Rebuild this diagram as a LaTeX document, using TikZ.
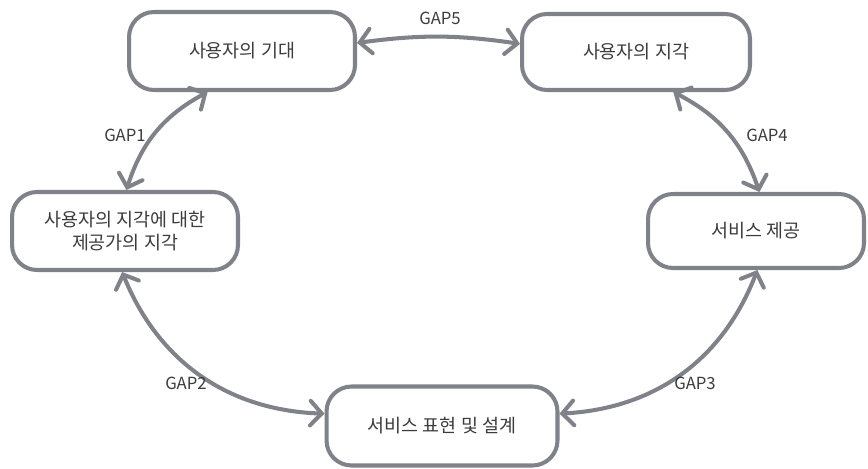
\documentclass[tikz,border=0pt]{standalone}
\usepackage{fontspec}
\setmainfont{Noto Sans CJK KR}
\usetikzlibrary{arrows.meta}
\definecolor{edgegray}{RGB}{128,130,137}
\definecolor{txtgray}{RGB}{60,60,62}
\tikzset{
  gapbox/.style={draw=edgegray, line width=2.3pt, rounded corners=0.5cm, fill=white,
    align=center, text=txtgray, font=\fontsize{10.5}{13}\selectfont, inner sep=0pt},
  gaparrow/.style={draw=edgegray, line width=2.3pt,
    {Straight Barb[length=6.5pt,width=14pt,line cap=round]}-{Straight Barb[length=6.5pt,width=14pt,line cap=round]}},
  gaplabel/.style={text=txtgray, font=\fontsize{9.5}{11}\selectfont, inner sep=1pt}
}
\begin{document}
\begin{tikzpicture}[x=0.02cm,y=-0.02cm]
\useasboundingbox (0,0) rectangle (868,469);
\node[gapbox, minimum width=4.52cm, minimum height=1.56cm] (n1) at (242,51) {사용자의 기대};
\node[gapbox, minimum width=4.56cm, minimum height=1.52cm] (n2) at (636,52) {사용자의 지각};
\node[gapbox, minimum width=4.52cm, minimum height=1.56cm] (n3) at (125,231) {사용자의 지각에 대한\\제공가의 지각};
\node[gapbox, minimum width=4.32cm, minimum height=1.48cm] (n4) at (756,231) {서비스 제공};
\node[gapbox, minimum width=4.62cm, minimum height=1.58cm] (n5) at (442,426) {서비스 표현 및 설계};

\draw[gaparrow] (n1.4) to[bend left=8] (n2.176);
\draw[gaparrow] (n1.230) to[bend right=22] (n3.88);
\draw[gaparrow] (n2.313) to[bend left=22] (n4.85);
\draw[gaparrow] (n3.266) to[bend right=33] (n5.174);
\draw[gaparrow] (n4.272) to[bend left=33] (n5.6);

\node[gaplabel] (g5) at (440,18) {GAP5};
\node[gaplabel] (g1) at (125,135) {GAP1};
\node[gaplabel] (g4) at (767,135) {GAP4};
\node[gaplabel] (g2) at (186,383) {GAP2};
\node[gaplabel] (g3) at (695,383) {GAP3};
\end{tikzpicture}
\end{document}
